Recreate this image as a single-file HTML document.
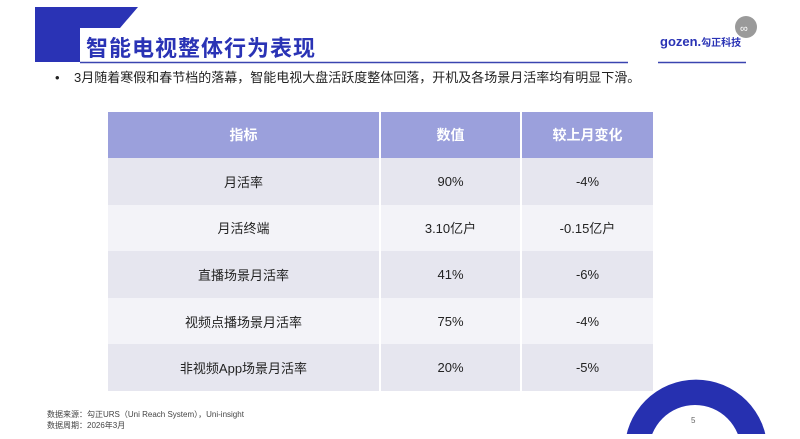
<!DOCTYPE html>
<html><head><meta charset="utf-8"><style>
body{margin:0;width:800px;height:439px;background:#fff;position:relative;overflow:hidden;font-family:"Liberation Sans","Noto Sans CJK SC",sans-serif;}
.abs{position:absolute}
table{position:absolute;left:106px;top:112px;width:549px;border-collapse:collapse;font-size:13px;color:#222}
td,th{text-align:center;border-left:2px solid #fff;border-right:2px solid #fff;padding:0}
th{background:#9ba0dc;color:#fff;height:46px;font-size:14px}
tr.a td{background:#e6e6ef;height:46.6px}
tr.b td{background:#f3f3f8;height:46.6px}
</style></head><body>
<svg class="abs" style="left:0;top:0" width="800" height="439">
<polygon points="35,7 138,7 120,28 80,28 80,62 35,62" fill="#2a33b5"/>
<line x1="80" y1="62.5" x2="628" y2="62.5" stroke="#3a44b0" stroke-width="1.5"/>
<line x1="658" y1="62.5" x2="746" y2="62.5" stroke="#3a44b0" stroke-width="1.5"/>
<circle cx="746" cy="27" r="11" fill="#9a9a9a"/>
<text x="740" y="32" font-size="11" fill="#fff">&#8734;</text>
<path d="M624.6,451 A71.4,71.4 0 0 1 767.4,451 L741,451 A46,46 0 0 0 649,451 Z" fill="#2630b0"/>
<rect x="600" y="434" width="200" height="5" fill="#fff"/>
</svg>
<div class="abs" style="left:86px;top:31px;font-size:22px;font-weight:bold;color:#2a33b5;letter-spacing:1px">智能电视整体行为表现</div>
<div class="abs" style="left:660px;top:34px;font-size:13px;font-weight:bold;color:#2a33b5">gozen.<span style="font-size:10px">勾正科技</span></div>
<div class="abs" style="left:55px;top:67px;font-size:13px;color:#222">•&nbsp;&nbsp;&nbsp;&nbsp;3月随着寒假和春节档的落幕，智能电视大盘活跃度整体回落，开机及各场景月活率均有明显下滑。</div>
<table>
<tr><th style="width:271px">指标</th><th style="width:139px">数值</th><th>较上月变化</th></tr>
<tr class="a"><td>月活率</td><td>90%</td><td>-4%</td></tr>
<tr class="b"><td>月活终端</td><td>3.10亿户</td><td>-0.15亿户</td></tr>
<tr class="a"><td>直播场景月活率</td><td>41%</td><td>-6%</td></tr>
<tr class="b"><td>视频点播场景月活率</td><td>75%</td><td>-4%</td></tr>
<tr class="a"><td>非视频App场景月活率</td><td>20%</td><td>-5%</td></tr>
</table>
<div class="abs" style="left:47px;top:409px;font-size:8px;color:#444;line-height:11px">数据来源：勾正URS（Uni Reach System），Uni-insight<br>数据周期：2026年3月</div>
<div class="abs" style="left:691px;top:416px;font-size:8px;color:#666">5</div>
</body></html>
